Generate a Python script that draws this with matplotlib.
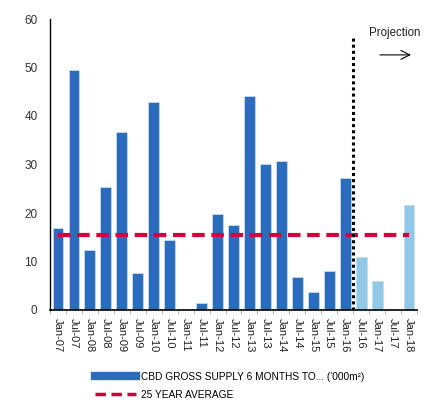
import matplotlib
matplotlib.use("Agg")
import matplotlib.pyplot as plt
from matplotlib.lines import Line2D
import numpy as np

plt.rcParams['font.family'] = ['Liberation Sans', 'DejaVu Sans']

categories = ["Jan-07", "Jul-07", "Jan-08", "Jul-08", "Jan-09", "Jul-09", "Jan-10", "Jul-10",
              "Jan-11", "Jul-11", "Jan-12", "Jul-12", "Jan-13", "Jul-13", "Jan-14", "Jul-14",
              "Jan-15", "Jul-15", "Jan-16", "Jul-16", "Jan-17", "Jul-17", "Jan-18"]
supply = [17.0, 49.5, 12.4, 25.4, 36.7, 7.7, 42.9, 14.4, 0.0, 1.4, 19.8, 17.5, 44.2, 30.1,
          30.7, 6.9, 3.7, 8.0, 27.2, 10.9, 6.0, 0.0, 21.6]
projected = [False] * 19 + [True] * 4
average = 15.4

dark = "#2b6dbb"
light = "#8fc9e5"
red = "#d6003c"

fig = plt.figure(figsize=(4.29, 4.01), dpi=100)
ax = fig.add_axes([50/429, 91/401, 367/429, 291/401])

x = np.arange(len(categories))
colors = [light if p else dark for p in projected]
ax.bar(x, supply, width=0.68, color=colors, edgecolor="#c8daf0", linewidth=0.6, zorder=2)
ax.plot(x, [average] * len(x), color=red, linestyle=(0, (3, 1.6)), linewidth=3, zorder=3)

boundary = 18.5
ax.plot([boundary, boundary], [0, 56.5], color="black", linestyle=(0, (1, 1)), linewidth=2.2, zorder=4)

ax.text(21.1, 57.1, "Projection", fontsize=8.3, ha="center", va="center", color="#222222")
ax.annotate("", xy=(22.3, 52.6), xytext=(20.0, 52.6), annotation_clip=False,
            arrowprops=dict(arrowstyle="->", color="black", lw=0.8, mutation_scale=16))

ax.set_xlim(-0.5, len(categories) - 0.5)
ax.set_ylim(0, 60)
ax.set_yticks([0, 10, 20, 30, 40, 50, 60])
ax.tick_params(axis="y", length=0, labelsize=8.5, labelcolor="#333333", pad=9)
ax.set_xticks(x)
ax.set_xticklabels(categories, rotation=270, fontsize=8, color="#222222")
ax.tick_params(axis="x", length=0, pad=6)
ax.set_xticks(np.arange(-0.5, len(categories), 1), minor=True)
ax.tick_params(axis="x", which="minor", length=3, color="#aaaaaa")

for s in ["top", "right"]:
    ax.spines[s].set_visible(False)
ax.spines["left"].set_color("black")
ax.spines["bottom"].set_color("black")
ax.spines["left"].set_linewidth(1)
ax.spines["bottom"].set_linewidth(1.2)

handles = [Line2D([0], [0], color=dark, linewidth=6),
           Line2D([0], [0], color=red, linestyle=(0, (3, 1.6)), linewidth=2.5)]
labels = ["CBD GROSS SUPPLY 6 MONTHS TO... ('000m²)", "25 YEAR AVERAGE"]
fig.legend(handles, labels, loc="upper left", bbox_to_anchor=(95/429, 1 - 372/401),
           frameon=False, fontsize=7.3, handlelength=4, handletextpad=0.5,
           labelspacing=0.75, borderaxespad=0, borderpad=0)

fig.savefig("out.png", dpi=100)
